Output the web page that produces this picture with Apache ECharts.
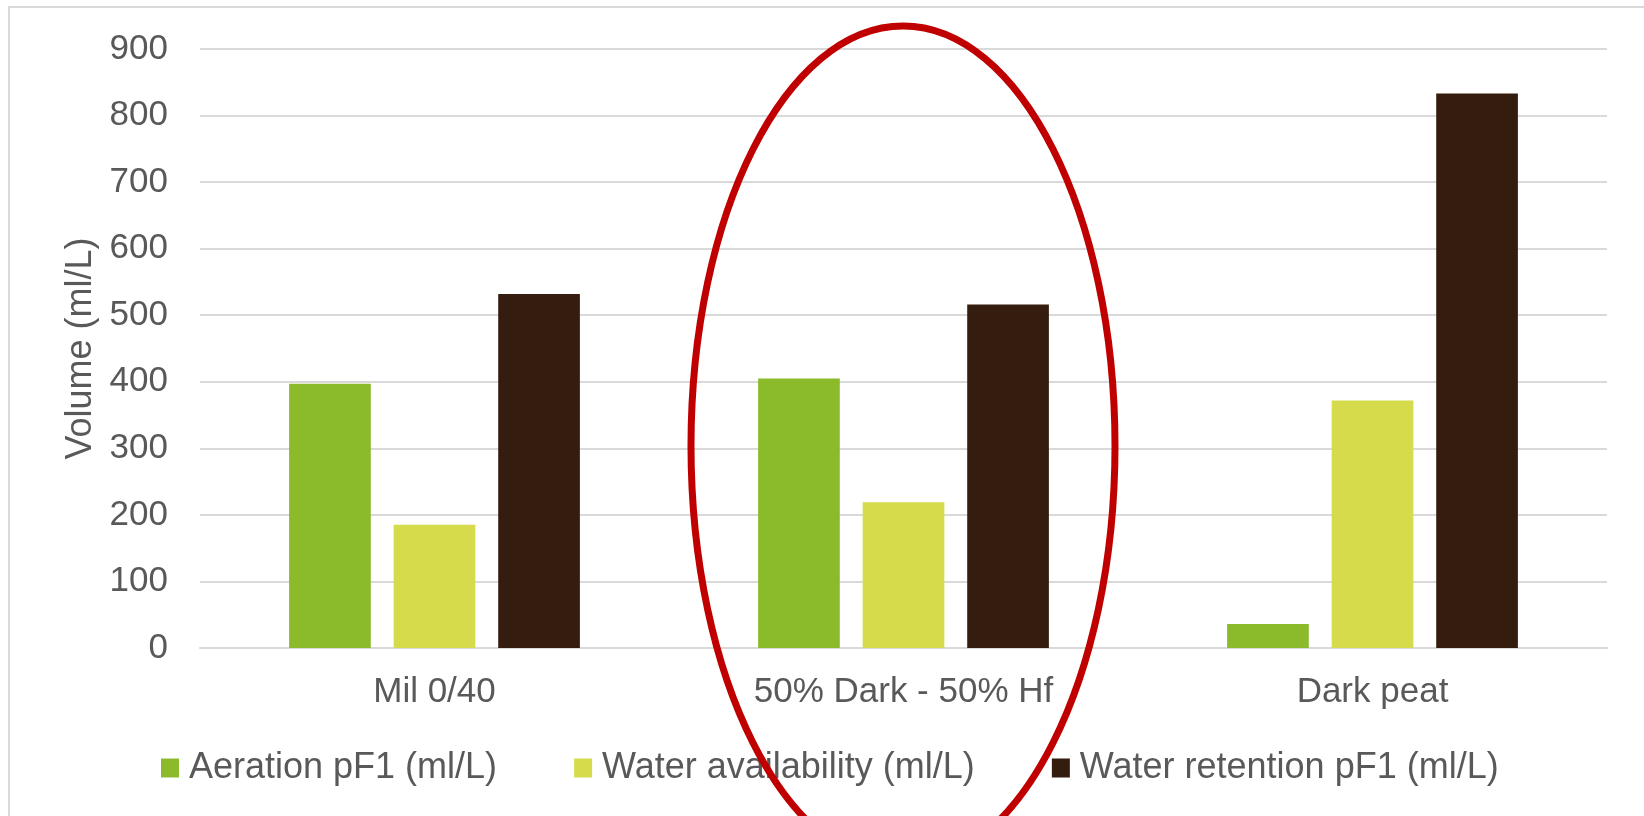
<!DOCTYPE html>
<html>
<head>
<meta charset="utf-8">
<title>Volume (ml/L)</title>
<script src="https://cdn.jsdelivr.net/npm/echarts@6/dist/echarts.min.js"></script>
<style>
  html, body { margin: 0; padding: 0; background: #ffffff; }
  #chart { width: 1644px; height: 816px; }
</style>
</head>
<body>
<div id="chart"></div>
<script>
// Substrate mixes on the category axis
const categories = ['Mil 0/40', '50% Dark - 50% Hf', 'Dark peat'];

// Measured volumes per substrate (ml/L)
const aeration = [397, 405, 36];
const availability = [185, 219, 372];
const retention = [532, 516, 833];

const seriesNames = ['Aeration pF1 (ml/L)', 'Water availability (ml/L)', 'Water retention pF1 (ml/L)'];

// Value axis range
const yMin = 0;
const yMax = 900;
const yStep = 100;

const TEXT = '#595959';
const FONT = '"Liberation Sans", Arial, sans-serif';
const colors = ['#8BBA2B', '#D5DB4A', '#341D0F'];

const chart = echarts.init(document.getElementById('chart'), null, { renderer: 'canvas' });

function barSeries(name, data, color) {
  return {
    name: name,
    type: 'bar',
    data: data,
    barGap: '28%',
    barCategoryGap: '38%',
    itemStyle: { color: color },
    emphasis: { disabled: true }
  };
}

chart.setOption({
  animation: false,
  backgroundColor: '#ffffff',
  textStyle: { fontFamily: FONT },
  grid: { left: 200, right: 37, top: 49, bottom: 168, containLabel: false },
  xAxis: {
    type: 'category',
    data: categories,
    axisLine: { show: true, lineStyle: { color: '#d9d9d9', width: 2 } },
    axisTick: { show: false },
    axisLabel: { color: TEXT, fontSize: 35, fontFamily: FONT, margin: 27 },
    splitLine: { show: false }
  },
  yAxis: {
    type: 'value',
    min: yMin,
    max: yMax,
    interval: yStep,
    name: 'Volume (ml/L)',
    nameLocation: 'middle',
    nameGap: 99,
    nameRotate: 90,
    nameTextStyle: { color: TEXT, fontSize: 36, fontFamily: FONT },
    axisLine: { show: false },
    axisTick: { show: false },
    axisLabel: { color: TEXT, fontSize: 35, fontFamily: FONT, margin: 32 },
    splitLine: { show: true, lineStyle: { color: '#d9d9d9', width: 2 } }
  },
  legend: {
    show: true,
    left: 161,
    top: 750,
    padding: 0,
    itemWidth: 18,
    itemHeight: 19,
    itemGap: 77,
    icon: 'rect',
    data: seriesNames,
    textStyle: { color: TEXT, fontSize: 36, fontFamily: FONT, padding: [0, 0, 0, 5] }
  },
  series: [
    barSeries(seriesNames[0], aeration, colors[0]),
    barSeries(seriesNames[1], availability, colors[1]),
    barSeries(seriesNames[2], retention, colors[2])
  ],
  graphic: [
    {
      type: 'rect',
      silent: true,
      z: 0,
      shape: { x: 9, y: 7, width: 1700, height: 900 },
      style: { fill: 'none', stroke: '#d9d9d9', lineWidth: 2 }
    },
    {
      type: 'ellipse',
      silent: true,
      z: 200,
      shape: { cx: 903, cy: 446, rx: 212, ry: 420 },
      style: { fill: 'none', stroke: '#C00000', lineWidth: 7 }
    }
  ]
});
</script>
</body>
</html>
